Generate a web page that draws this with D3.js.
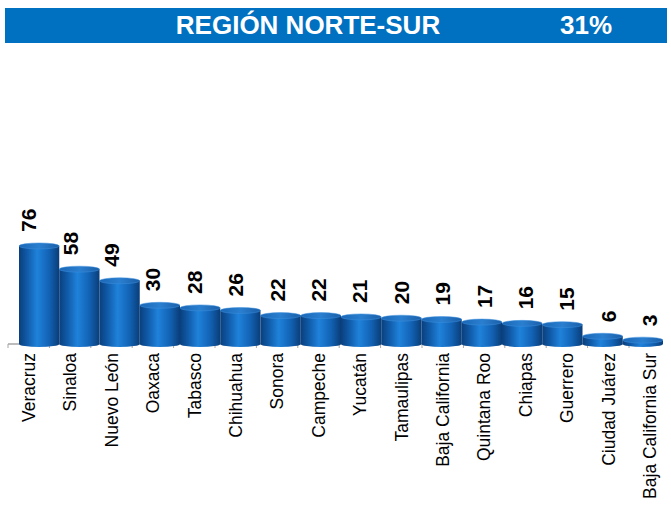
<!DOCTYPE html>
<html>
<head>
<meta charset="utf-8">
<script src="https://cdn.jsdelivr.net/npm/d3@7"></script>
<style>
  body { margin: 0; background: #fff; }
  svg { display: block; font-family: "Liberation Sans", Arial, sans-serif; }
</style>
</head>
<body>
<svg id="chart" width="671" height="506"></svg>
<script>
// Region header
const title = 'REGIÓN NORTE-SUR';
const share = '31%';

// Categories and values
const states = ['Veracruz', 'Sinaloa', 'Nuevo León', 'Oaxaca', 'Tabasco', 'Chihuahua', 'Sonora',
    'Campeche', 'Yucatán', 'Tamaulipas', 'Baja California', 'Quintana Roo', 'Chiapas',
    'Guerrero', 'Ciudad Juárez', 'Baja California Sur'];
const counts = [76, 58, 49, 30, 28, 26, 22, 22, 21, 20, 19, 17, 16, 15, 6, 3];

const data = states.map((s, i) => ({ state: s, value: counts[i] }));

const svg = d3.select('#chart');

// Header band
svg.append('rect')
    .attr('x', 5).attr('y', 8)
    .attr('width', 662).attr('height', 35)
    .attr('fill', '#0070C0');

svg.append('text')
    .attr('x', 308).attr('y', 34)
    .attr('text-anchor', 'middle')
    .attr('fill', '#fff')
    .style('font-weight', 'bold')
    .style('font-size', '26px')
    .text(title);

svg.append('text')
    .attr('x', 586).attr('y', 34)
    .attr('text-anchor', 'middle')
    .attr('fill', '#fff')
    .style('font-weight', 'bold')
    .style('font-size', '26px')
    .text(share);

// Scales: category band for ticks/labels, slightly shifted band for the bars (3D look)
const x = d3.scaleBand().domain(states).range([8, 670.4]).padding(0);
const xBar = d3.scaleBand().domain(states).range([19, 663]).padding(0);
const y = d3.scaleLinear().domain([0, 100]).range([344, 215]);

// Cylinder gradient
const defs = svg.append('defs');
const grad = defs.append('linearGradient')
    .attr('id', 'barGrad')
    .attr('x1', '0%').attr('x2', '100%').attr('y1', '0%').attr('y2', '0%');
grad.append('stop').attr('offset', '0%').attr('stop-color', '#0a3f7c');
grad.append('stop').attr('offset', '20%').attr('stop-color', '#105aa8');
grad.append('stop').attr('offset', '45%').attr('stop-color', '#1f82da');
grad.append('stop').attr('offset', '75%').attr('stop-color', '#1262b4');
grad.append('stop').attr('offset', '100%').attr('stop-color', '#0a3d78');

const topGrad = defs.append('linearGradient')
    .attr('id', 'topGrad')
    .attr('x1', '0%').attr('x2', '100%').attr('y1', '0%').attr('y2', '0%');
topGrad.append('stop').attr('offset', '0%').attr('stop-color', '#1a66b5');
topGrad.append('stop').attr('offset', '50%').attr('stop-color', '#2a7fd0');
topGrad.append('stop').attr('offset', '100%').attr('stop-color', '#1a5ea8');

// Axis (floor edge)
const axisY = y(0);
svg.append('line')
    .attr('x1', 8).attr('x2', 662)
    .attr('y1', axisY).attr('y2', axisY)
    .attr('stroke', '#a6a6a6')
    .attr('stroke-width', 1.5);

svg.append('g')
    .selectAll('line')
    .data(states)
    .enter()
    .append('line')
    .attr('x1', d => x(d)).attr('x2', d => x(d))
    .attr('y1', axisY).attr('y2', axisY + 4)
    .attr('stroke', '#a6a6a6')
    .attr('stroke-width', 1);

// Bars
const bars = svg.append('g')
    .selectAll('g')
    .data(data)
    .enter()
    .append('g');

const ry = 3;

bars.append('path')
    .attr('d', d => {
        const x0 = xBar(d.state), w = xBar.bandwidth();
        const top = y(d.value), bot = axisY;
        return `M${x0},${top} L${x0},${bot} A${w / 2},${ry} 0 0 0 ${x0 + w},${bot} L${x0 + w},${top} Z`;
    })
    .attr('fill', 'url(#barGrad)');

bars.append('ellipse')
    .attr('cx', d => xBar(d.state) + xBar.bandwidth() / 2)
    .attr('cy', d => y(d.value))
    .attr('rx', xBar.bandwidth() / 2)
    .attr('ry', ry)
    .attr('fill', 'url(#topGrad)')
    .attr('stroke', '#3d8fdc')
    .attr('stroke-width', 0.5);

// Value labels
bars.append('text')
    .attr('transform', d => `translate(${x(d.state) + x.bandwidth() / 2},${y(d.value) - 14}) rotate(-90)`)
    .attr('dy', '0.36em')
    .attr('text-anchor', 'start')
    .style('font-weight', 'bold')
    .style('font-size', '21px')
    .attr('fill', '#000')
    .text(d => d.value);

// Category labels
svg.append('g')
    .selectAll('text')
    .data(states)
    .enter()
    .append('text')
    .attr('transform', d => `translate(${x(d) + x.bandwidth() / 2},353) rotate(-90)`)
    .attr('dy', '0.36em')
    .attr('text-anchor', 'end')
    .style('font-size', '17.5px')
    .attr('fill', '#000')
    .text(d => d);
</script>
</body>
</html>
